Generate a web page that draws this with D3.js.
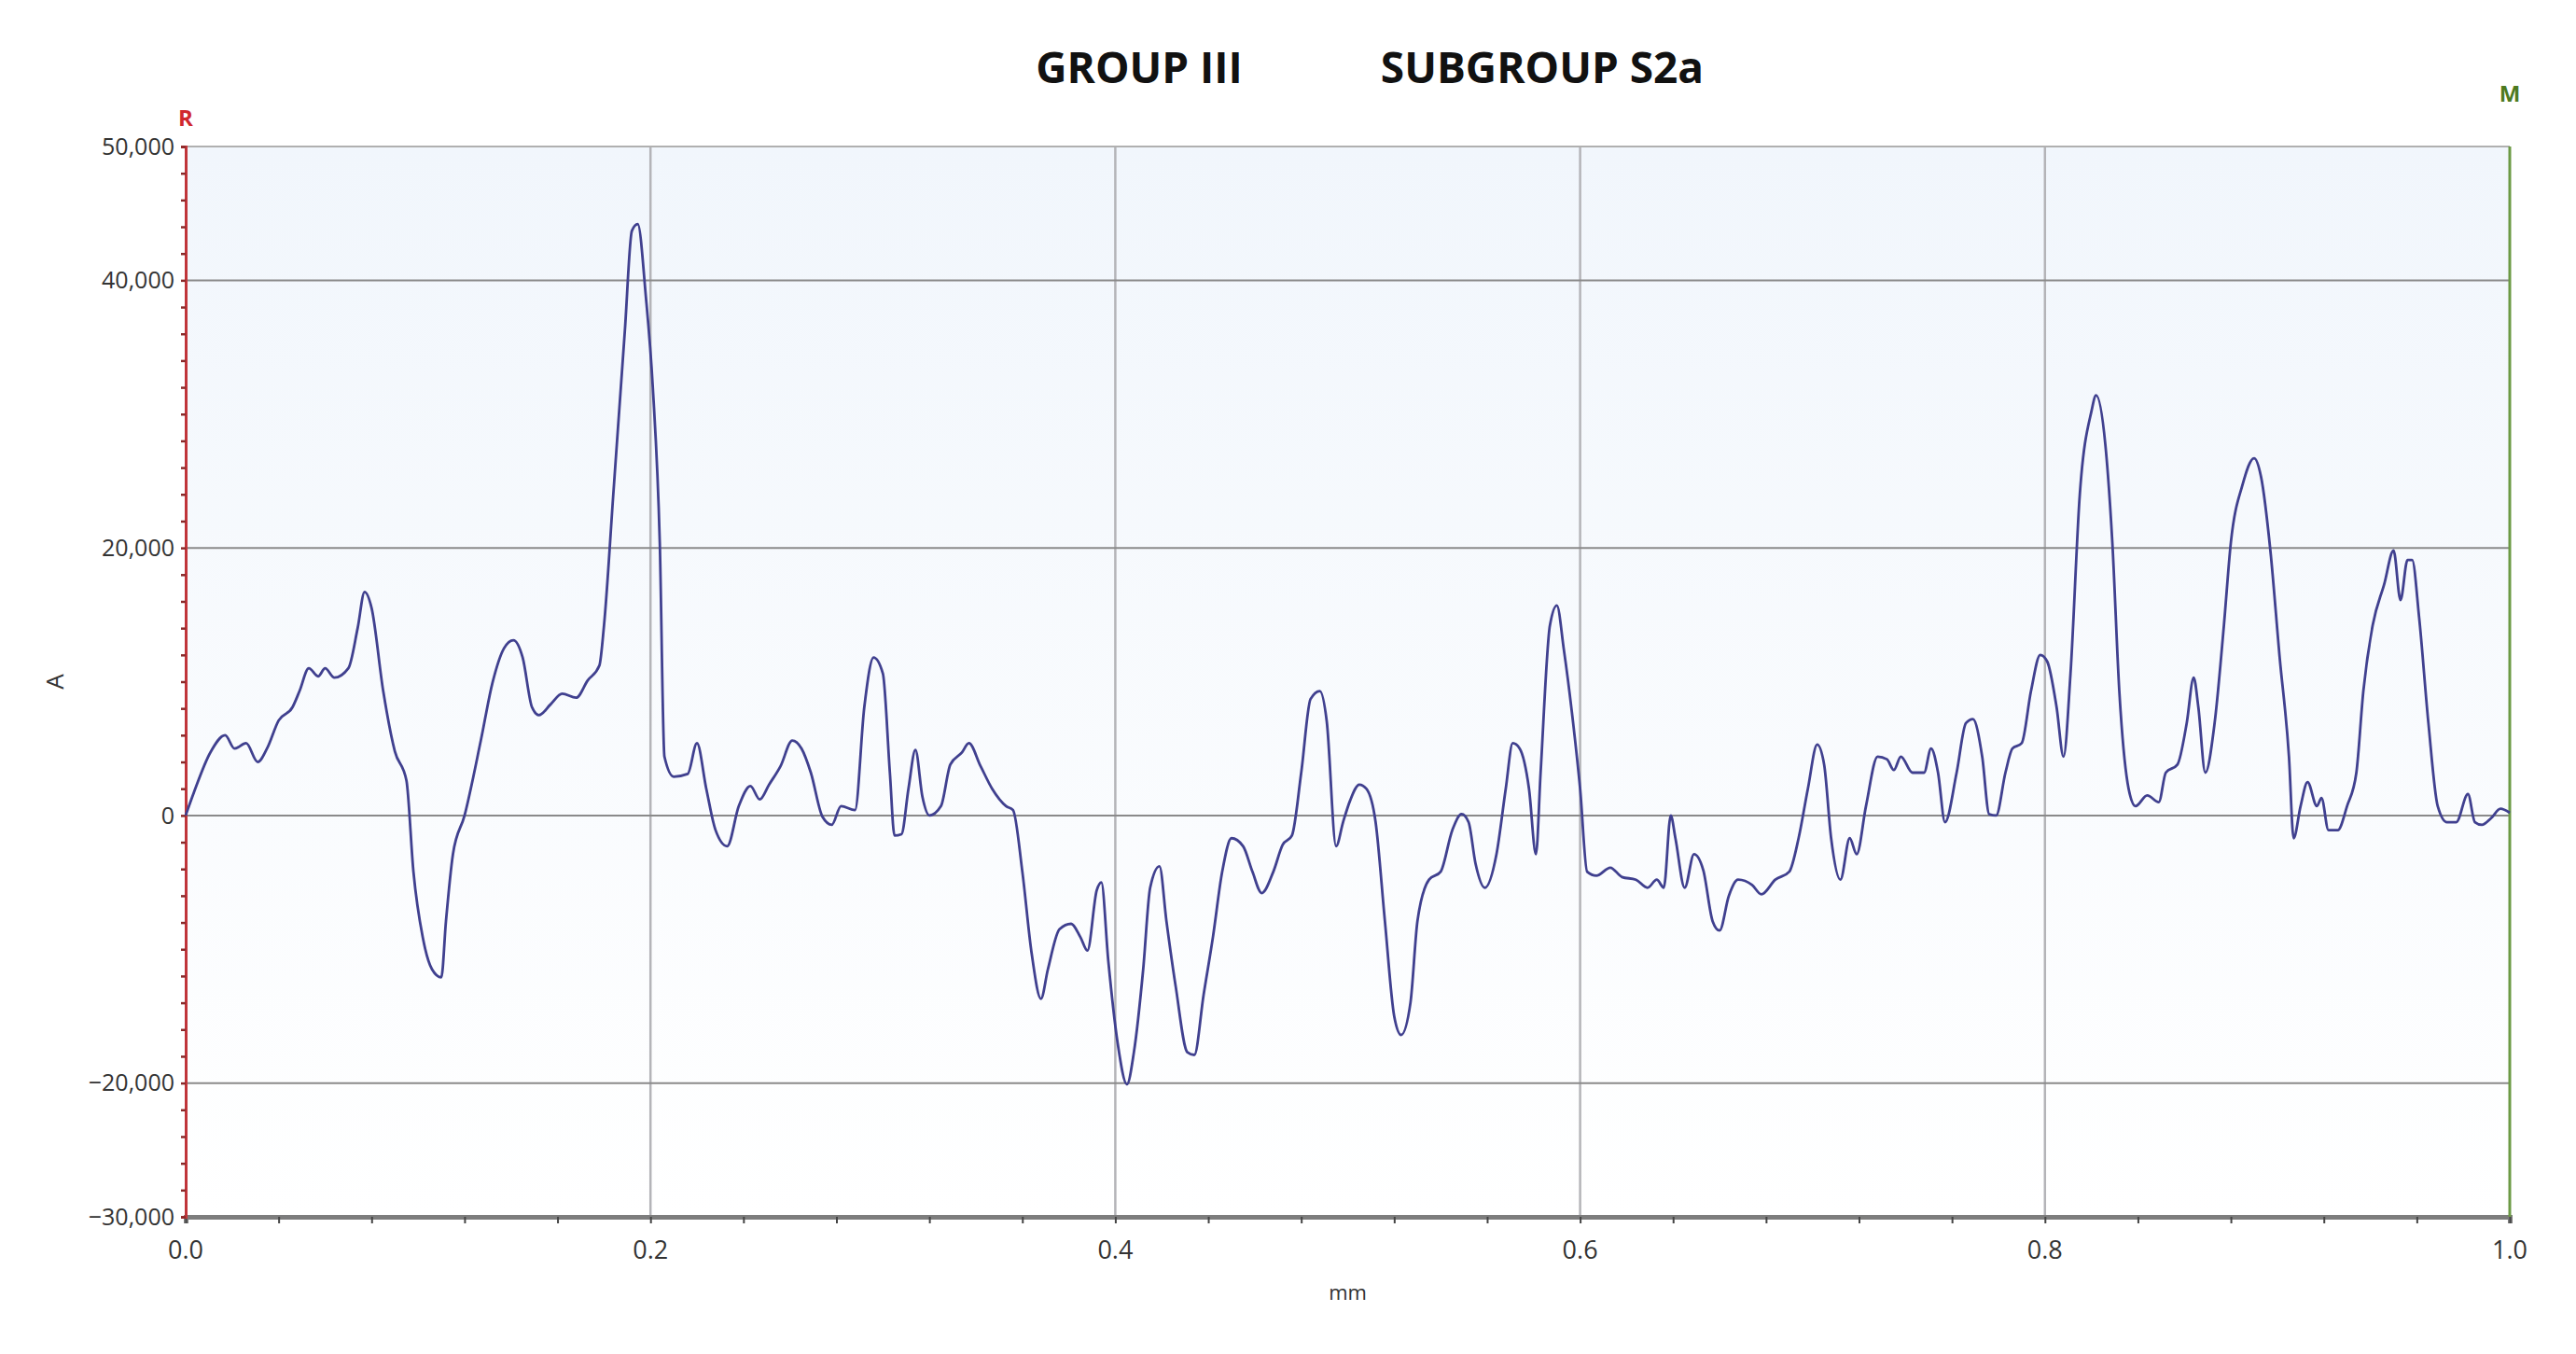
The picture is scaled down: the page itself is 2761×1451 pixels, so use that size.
<!DOCTYPE html>
<html>
<head>
<meta charset="utf-8">
<script src="https://cdn.jsdelivr.net/npm/d3@7"></script>
<style>
  body { margin: 0; background: #fff; }
  text { font-family: "Open Sans", "Noto Sans", sans-serif; }
</style>
</head>
<body>
<div id="chart"></div>
<script>
// profile position (mm) and amplitude
const xs = [0,0.0035,0.0106,0.017,0.021,0.026,0.031,0.035,0.04,0.046,0.049,0.053,0.057,0.06,0.064,0.07,0.074,0.077,0.08,0.085,0.09,0.095,0.098,0.102,0.106,0.11,0.112,0.115,0.12,0.127,0.132,0.137,0.141,0.145,0.149,0.152,0.157,0.162,0.168,0.173,0.178,0.18,0.184,0.189,0.192,0.1945,0.198,0.201,0.204,0.206,0.21,0.216,0.22,0.224,0.228,0.233,0.238,0.243,0.247,0.251,0.256,0.261,0.265,0.269,0.274,0.278,0.282,0.288,0.292,0.296,0.3,0.303,0.305,0.308,0.311,0.314,0.317,0.32,0.325,0.329,0.334,0.337,0.342,0.347,0.353,0.356,0.36,0.364,0.368,0.371,0.376,0.381,0.385,0.388,0.392,0.394,0.397,0.401,0.405,0.408,0.412,0.415,0.419,0.422,0.426,0.431,0.434,0.438,0.442,0.446,0.45,0.455,0.459,0.463,0.468,0.472,0.476,0.48,0.484,0.488,0.491,0.495,0.498,0.501,0.505,0.508,0.512,0.516,0.52,0.523,0.527,0.53,0.535,0.54,0.545,0.549,0.552,0.555,0.559,0.564,0.568,0.571,0.574,0.578,0.581,0.583,0.587,0.59,0.593,0.597,0.6,0.603,0.607,0.613,0.618,0.624,0.629,0.633,0.636,0.639,0.641,0.645,0.649,0.653,0.657,0.66,0.664,0.668,0.674,0.678,0.684,0.69,0.694,0.698,0.702,0.705,0.708,0.712,0.716,0.719,0.723,0.728,0.732,0.735,0.738,0.743,0.748,0.751,0.754,0.757,0.762,0.766,0.769,0.773,0.776,0.779,0.783,0.786,0.79,0.794,0.798,0.801,0.805,0.808,0.811,0.815,0.82,0.822,0.826,0.829,0.832,0.836,0.839,0.844,0.849,0.852,0.857,0.861,0.864,0.866,0.869,0.873,0.877,0.88,0.885,0.89,0.893,0.897,0.901,0.905,0.907,0.91,0.913,0.917,0.919,0.922,0.926,0.93,0.934,0.937,0.941,0.946,0.95,0.953,0.956,0.958,0.961,0.965,0.969,0.973,0.977,0.982,0.985,0.988,0.992,0.996,1.0];
const amp = [0,1700,4700,6000,5000,5400,4000,5000,7100,8100,9300,11000,10400,11000,10300,11000,14000,16700,15500,9300,4800,2600,-4200,-9100,-11500,-12100,-7900,-2900,0,5600,9900,12500,13100,11800,8100,7500,8300,9100,8800,10100,11200,14200,24000,36300,43700,44200,38800,32000,20400,4400,2900,3100,5400,2000,-1100,-2300,700,2200,1200,2300,3700,5600,5000,3200,-100,-700,700,400,8100,11800,10600,3200,-1500,-1400,2000,4900,1400,0,700,3800,4700,5400,3700,2000,700,400,-4200,-10300,-13700,-11500,-8500,-8100,-9100,-10100,-5600,-5000,-10900,-17000,-20100,-17700,-11500,-5400,-3800,-7900,-12800,-17700,-17900,-13400,-9100,-4200,-1700,-2300,-4200,-5800,-4200,-2200,-1500,3200,8700,9300,7000,-2300,-500,1100,2300,2000,-500,-7900,-15000,-16400,-14000,-7900,-4800,-4200,-1100,100,-500,-3600,-5400,-2900,2000,5400,5000,2000,-2900,3200,14200,15700,12400,6900,2000,-4200,-4500,-3900,-4600,-4800,-5400,-4800,-5400,0,-1700,-5400,-2900,-4100,-7900,-8600,-6000,-4800,-5200,-5900,-4800,-4200,-1700,2000,5300,3800,-1700,-4800,-1700,-2900,700,4400,4200,3400,4400,3200,3200,5000,3200,-500,3200,6900,7200,4400,100,0,3200,5000,5400,9300,12000,11500,8100,4400,10600,24000,30200,31400,27700,20400,9300,2000,700,1500,1000,3200,3800,6900,10300,8100,3200,6900,14200,20400,24700,26700,25300,19800,11800,4400,-1700,700,2500,700,1300,-1100,-1100,700,3200,9300,14200,17300,19800,16100,19100,19100,14800,6900,700,-500,-500,1600,-500,-700,-200,500,200];

const yTicks = [50000, 40000, 20000, 0, -20000, -30000];
const yGrid = [40000, 20000, 0, -20000];
const xTicks = [0, 0.2, 0.4, 0.6, 0.8, 1.0];

const W = 2761, H = 1451;
const margin = { left: 199, right: 71, top: 157, bottom: 147 };

const svg = d3.select("#chart").append("svg")
    .attr("width", W)
    .attr("height", H);

const x = d3.scaleLinear().domain([0, 1]).range([margin.left, W - margin.right]);
const y = d3.scaleLinear().domain([-30000, 50000]).range([H - margin.bottom, margin.top]);

// plot background, light blue fading to white
const grad = svg.append("defs").append("linearGradient")
    .attr("id", "bg").attr("x1", 0).attr("y1", 0).attr("x2", 0).attr("y2", 1);
grad.append("stop").attr("offset", "0%").attr("stop-color", "#f1f6fc");
grad.append("stop").attr("offset", "100%").attr("stop-color", "#ffffff");

svg.append("rect")
    .attr("x", x(0)).attr("y", y(50000))
    .attr("width", x(1) - x(0)).attr("height", y(-30000) - y(50000))
    .attr("fill", "url(#bg)");

// grid
svg.append("g").selectAll("line")
    .data(xTicks.slice(1, -1))
    .join("line")
    .attr("x1", d => x(d)).attr("x2", d => x(d))
    .attr("y1", y(50000)).attr("y2", y(-30000))
    .attr("stroke", "#b4b4b8").attr("stroke-width", 2.5);

svg.append("g").selectAll("line")
    .data(yGrid.concat([50000]))
    .join("line")
    .attr("x1", x(0)).attr("x2", x(1))
    .attr("y1", d => y(d)).attr("y2", d => y(d))
    .attr("stroke", d => d === 50000 ? "#b0b0b0" : "#8a8a8a")
    .attr("stroke-width", 2);

// x axis
const xAxis = svg.append("g")
    .attr("transform", `translate(0,${y(-30000)})`)
    .call(d3.axisBottom(x).tickValues(d3.range(0, 1.0001, 0.04)).tickSize(7).tickFormat(""));
xAxis.select(".domain").attr("stroke", "#7d7d7d").attr("stroke-width", 5);
xAxis.selectAll(".tick line").attr("stroke", "#444").attr("stroke-width", 2);

svg.append("g").selectAll("text")
    .data(xTicks)
    .join("text")
    .attr("x", d => x(d)).attr("y", y(-30000) + 45)
    .attr("text-anchor", "middle")
    .attr("font-size", 27).attr("fill", "#333")
    .text(d => d.toFixed(1));

svg.append("text")
    .attr("x", x(0.5)).attr("y", 1393)
    .attr("text-anchor", "middle")
    .attr("font-size", 22).attr("fill", "#333")
    .text("mm");

// y axis
const yAxis = svg.append("g")
    .attr("transform", `translate(${x(0)},0)`)
    .call(d3.axisLeft(y).tickValues(d3.range(-30000, 50001, 2000)).tickSize(5).tickFormat(""));
yAxis.select(".domain").attr("stroke", "#c0353a").attr("stroke-width", 3);
yAxis.selectAll(".tick line").attr("stroke", "#8a2a2a").attr("stroke-width", 2.5);

svg.append("g").selectAll("text")
    .data(yTicks)
    .join("text")
    .attr("x", x(0) - 12).attr("y", d => y(d))
    .attr("dy", "0.35em")
    .attr("text-anchor", "end")
    .attr("font-size", 25).attr("fill", "#333")
    .text(d => d3.format(",")(d).replace("-", "\u2212"));

svg.append("text")
    .attr("transform", `translate(68,${y(10000)}) rotate(-90)`)
    .attr("text-anchor", "middle")
    .attr("font-size", 26).attr("fill", "#333")
    .text("A");

// right marker line
svg.append("line")
    .attr("x1", x(1)).attr("x2", x(1))
    .attr("y1", y(50000)).attr("y2", y(-30000))
    .attr("stroke", "#6c9a45").attr("stroke-width", 3);

svg.append("text")
    .attr("x", x(0)).attr("y", 135)
    .attr("text-anchor", "middle")
    .attr("font-size", 24).attr("font-weight", "bold").attr("fill", "#d0282e")
    .text("R");

svg.append("text")
    .attr("x", x(1)).attr("y", 109)
    .attr("text-anchor", "middle")
    .attr("font-size", 24).attr("font-weight", "bold").attr("fill", "#4d7a1e")
    .text("M");

// title
svg.append("text")
    .attr("x", 1221).attr("y", 89)
    .attr("text-anchor", "middle")
    .attr("font-size", 46).attr("font-weight", "bold").attr("fill", "#111")
    .text("GROUP III");
svg.append("text")
    .attr("x", 1653).attr("y", 89)
    .attr("text-anchor", "middle")
    .attr("font-size", 46).attr("font-weight", "bold").attr("fill", "#111")
    .text("SUBGROUP S2a");

// profile line
const data = xs.map((d, i) => ({ x: d, v: amp[i] }));
svg.append("path")
    .datum(data)
    .attr("fill", "none")
    .attr("stroke", "#40408f")
    .attr("stroke-width", 2.8)
    .attr("d", d3.line().x(d => x(d.x)).y(d => y(d.v)).curve(d3.curveMonotoneX));
</script>
</body>
</html>
